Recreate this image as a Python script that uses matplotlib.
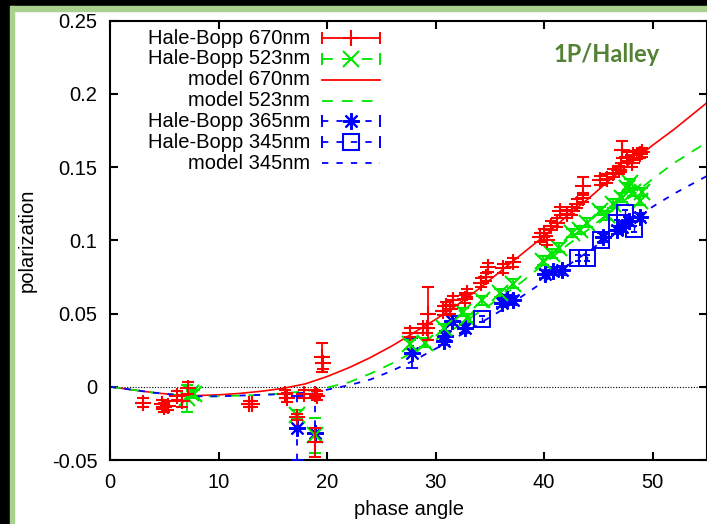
import matplotlib
matplotlib.use('Agg')
import matplotlib.pyplot as plt
from matplotlib.patches import Rectangle
from matplotlib.ticker import FuncFormatter

plt.rcParams['font.family'] = ['Liberation Sans', 'DejaVu Sans']
plt.rcParams['axes.unicode_minus'] = False

# ---------------- data ----------------
# model curves (phase angle, polarization)
model_x = [0, 2, 4, 6, 8, 10, 12, 14, 16, 18, 20, 22, 24, 26, 28, 30,
           32, 34, 36, 38, 40, 42, 44, 46, 48, 50, 52, 55]
model_670 = [0, -0.002, -0.004, -0.0055, -0.006, -0.0055, -0.0045, -0.003,
             -0.001, 0.002, 0.007, 0.013, 0.020, 0.028, 0.037, 0.046,
             0.056, 0.067, 0.079, 0.091, 0.103, 0.116, 0.128, 0.141,
             0.153, 0.165, 0.176, 0.194]
model_523 = [0, -0.002, -0.004, -0.0055, -0.0065, -0.0065, -0.006, -0.0055,
             -0.0045, -0.003, -0.0005, 0.003, 0.009, 0.016, 0.024, 0.032,
             0.041, 0.051, 0.061, 0.072, 0.084, 0.096, 0.107, 0.119,
             0.130, 0.142, 0.153, 0.167]
model_345 = [0, -0.002, -0.004, -0.0055, -0.0065, -0.0065, -0.006, -0.0055,
             -0.005, -0.004, -0.002, 0.001, 0.005, 0.011, 0.018, 0.026,
             0.034, 0.043, 0.052, 0.062, 0.072, 0.082, 0.092, 0.103,
             0.113, 0.123, 0.132, 0.144]

# Hale-Bopp 670nm
hb670_x = [3.0, 4.8, 5.0, 5.3, 6.2, 6.6, 7.2, 12.8, 13.1, 16.1, 16.3, 17.2,
           17.9, 18.9, 19.1, 18.9, 19.5, 19.6,
           27.6, 28.8, 29.2, 29.3, 30.7, 31.0, 31.3, 31.6, 32.7, 32.9, 34.2,
           34.6, 34.8, 36.2, 37.1,
           39.6, 40.0, 40.3, 40.6, 41.2, 41.5, 42.1, 42.6, 43.0, 43.6, 43.6,
           45.1, 45.8, 46.3, 46.9, 47.1, 47.2, 47.6, 48.1, 48.2, 48.8, 49.0]
hb670_y = [-0.011, -0.012, -0.014, -0.013, -0.006, -0.0095, -0.001, -0.012,
           -0.012, -0.005, -0.0075, -0.0205, -0.005, -0.005, -0.006, -0.038,
           0.020, 0.016,
           0.037, 0.040, 0.040, 0.050, 0.052, 0.055, 0.053, 0.059, 0.060,
           0.064, 0.071, 0.075, 0.0815, 0.081, 0.085,
           0.102, 0.105, 0.100, 0.110, 0.112, 0.120, 0.118, 0.120, 0.125,
           0.129, 0.137, 0.141, 0.142, 0.146, 0.148, 0.150, 0.162, 0.157,
           0.153, 0.158, 0.159, 0.160]
hb670_e = [0.003, 0.003, 0.003, 0.003, 0.003, 0.004, 0.004, 0.002, 0.002,
           0.003, 0.003, 0.002, 0.003, 0.003, 0.003, 0.010, 0.010, 0.004,
           0.003, 0.003, 0.003, 0.018, 0.003, 0.003, 0.003, 0.003, 0.003,
           0.003, 0.003, 0.003, 0.003, 0.003, 0.003,
           0.003, 0.003, 0.003, 0.003, 0.003, 0.003, 0.003, 0.003, 0.003,
           0.003, 0.006, 0.003, 0.003, 0.003, 0.003, 0.003, 0.006, 0.003,
           0.003, 0.003, 0.003, 0.003]

# Hale-Bopp 523nm
hb523_x = [7.1, 7.5, 7.7, 17.2, 18.9, 27.6, 29.0, 30.8, 32.5, 32.9, 34.3,
           35.9, 37.1, 39.9, 40.7, 41.4, 42.6, 43.3, 43.9, 45.1, 45.8, 46.3,
           47.2, 47.6, 47.9, 48.2, 48.8, 49.0]
hb523_y = [-0.008, -0.004, -0.005, -0.019, -0.033, 0.029, 0.030, 0.040,
           0.051, 0.047, 0.059, 0.064, 0.0705, 0.086, 0.091, 0.095, 0.105,
           0.107, 0.112, 0.120, 0.117, 0.125, 0.129, 0.136, 0.139, 0.133,
           0.127, 0.133]
hb523_e = [0.009, 0.003, 0.003, 0.003, 0.012, 0.003, 0.003, 0.003, 0.003,
           0.003, 0.003, 0.003, 0.003, 0.003, 0.003, 0.003, 0.003, 0.003,
           0.003, 0.003, 0.003, 0.003, 0.003, 0.003, 0.003, 0.003, 0.003,
           0.003]

# Hale-Bopp 365nm
hb365_x = [17.2, 18.9, 27.8, 30.8, 30.9, 31.5, 32.7, 36.1, 36.6, 37.1, 40.1,
           40.8, 41.6, 45.4, 46.7, 47.2, 47.8, 48.8]
hb365_y = [-0.028, -0.0315, 0.023, 0.0315, 0.035, 0.045, 0.040, 0.0575,
           0.060, 0.059, 0.077, 0.079, 0.0795, 0.102, 0.107, 0.109, 0.113,
           0.116]
hb365_e = [0.022, 0.025, 0.010, 0.003, 0.003, 0.003, 0.003, 0.003, 0.003,
           0.003, 0.003, 0.003, 0.003, 0.003, 0.003, 0.003, 0.003, 0.003]

# Hale-Bopp 345nm
hb345_x = [34.3, 43.1, 43.9, 45.2, 46.7, 47.4, 48.3]
hb345_y = [0.0465, 0.088, 0.088, 0.100, 0.112, 0.119, 0.108]
hb345_e = [0.002, 0.002, 0.002, 0.002, 0.002, 0.002, 0.002]

legend_labels = ["Hale-Bopp 670nm", "Hale-Bopp 523nm", "model 670nm",
                 "model 523nm", "Hale-Bopp 365nm", "Hale-Bopp 345nm",
                 "model 345nm"]

RED, GREEN, BLUE = '#ff0000', '#00e600', '#0000ff'
DASH_G = (0, (6, 5))
DASH_B = (0, (3.5, 4.5))
STAR = (8, 2, 0)

# ---------------- figure ----------------
fig = plt.figure(figsize=(7.07, 5.24), dpi=100)
ax = fig.add_axes([110 / 707, 64 / 524, 597 / 707, 439.3 / 524])

ax.axhline(0, color='black', lw=0.8, ls=(0, (1, 1.5)), zorder=1)

ax.plot(model_x, model_670, color=RED, lw=1.2, zorder=2)
ax.plot(model_x, model_523, color=GREEN, lw=1.3, ls=DASH_G, zorder=2)
ax.plot(model_x, model_345, color=BLUE, lw=1.3, ls=DASH_B, zorder=2)

ax.errorbar(hb670_x, hb670_y, yerr=hb670_e, fmt='+', color=RED, ms=12,
            mew=1.5, elinewidth=1.3, capsize=4.5, capthick=1.3, zorder=4)
eb = ax.errorbar(hb523_x, hb523_y, yerr=hb523_e, fmt='x', color=GREEN, ms=11,
                 mew=1.5, elinewidth=1.3, capsize=4.5, capthick=1.3, zorder=3)
eb[2][0].set_linestyle(DASH_G)
eb = ax.errorbar(hb365_x, hb365_y, yerr=hb365_e, fmt='none', ecolor=BLUE,
                 elinewidth=1.3, capsize=4.5, capthick=1.3, zorder=3)
eb[2][0].set_linestyle(DASH_B)
ax.plot(hb365_x, hb365_y, ls='none', marker=STAR, ms=12, mew=1.5,
        color=BLUE, zorder=3)
eb = ax.errorbar(hb345_x, hb345_y, yerr=hb345_e, fmt='s', color=BLUE, ms=11,
                 mfc='none', mew=1.4, elinewidth=1.0, capsize=2, zorder=3)
eb[2][0].set_linestyle(DASH_B)

ax.set_xlim(0, 55)
ax.set_ylim(-0.05, 0.25)
ax.set_xticks([0, 10, 20, 30, 40, 50])
ax.set_yticks([-0.05, 0, 0.05, 0.1, 0.15, 0.2, 0.25])
ax.yaxis.set_major_formatter(FuncFormatter(lambda v, p: '%g' % round(v, 3)))
ax.tick_params(direction='in', length=6, width=1.5, top=True, right=True,
               labelsize=14.5, pad=9)
for s in ax.spines.values():
    s.set_linewidth(1.5)

ax.set_xlabel('phase angle', fontsize=14.5, labelpad=6)
ax.set_ylabel('polarization', fontsize=14.5, labelpad=11)

# ---------------- gnuplot style key ----------------
styles = [
    dict(color=RED, ls='-', marker='+', caps=True),
    dict(color=GREEN, ls=DASH_G, marker='x', caps=True),
    dict(color=RED, ls='-', marker=None, caps=False),
    dict(color=GREEN, ls=DASH_G, marker=None, caps=False),
    dict(color=BLUE, ls=DASH_B, marker=STAR, caps=True),
    dict(color=BLUE, ls=DASH_B, marker='s', caps=True),
    dict(color=BLUE, ls=DASH_B, marker=None, caps=False),
]
x0, x1 = 0.355, 0.452
for i, (lab, st) in enumerate(zip(legend_labels, styles)):
    yy = 0.9606 - i * 0.0475
    ax.text(0.335, yy, lab, transform=ax.transAxes, ha='right', va='center',
            fontsize=14.5)
    ax.plot([x0, x1], [yy, yy], transform=ax.transAxes, color=st['color'],
            ls=st['ls'], lw=1.3, clip_on=False)
    if st['caps']:
        ax.plot([x0, x1], [yy, yy], transform=ax.transAxes, ls='none',
                marker='|', ms=8, mew=1.4, color=st['color'], clip_on=False)
    if st['marker'] is not None:
        ax.plot([(x0 + x1) / 2], [yy], transform=ax.transAxes, ls='none',
                marker=st['marker'], ms=12, mew=1.5, mfc='none',
                color=st['color'], clip_on=False)

ax.text(0.8325, 0.922, '1P/Halley', transform=ax.transAxes, ha='center',
        va='center', fontsize=17, fontweight='bold', family='Lato',
        color='#548235')

# slide frame
fig.add_artist(Rectangle((0, 1 - 6 / 524), 1, 6 / 524,
                         transform=fig.transFigure, color='black'))
fig.add_artist(Rectangle((0, 1 - 11 / 524), 1, 5 / 524,
                         transform=fig.transFigure, color='#a9d18e'))
fig.add_artist(Rectangle((0, 0), 10 / 707, 1,
                         transform=fig.transFigure, color='black'))
fig.add_artist(Rectangle((10 / 707, 0), 4 / 707, 1 - 6 / 524,
                         transform=fig.transFigure, color='#a9d18e'))

fig.savefig('out.png', dpi=100)
